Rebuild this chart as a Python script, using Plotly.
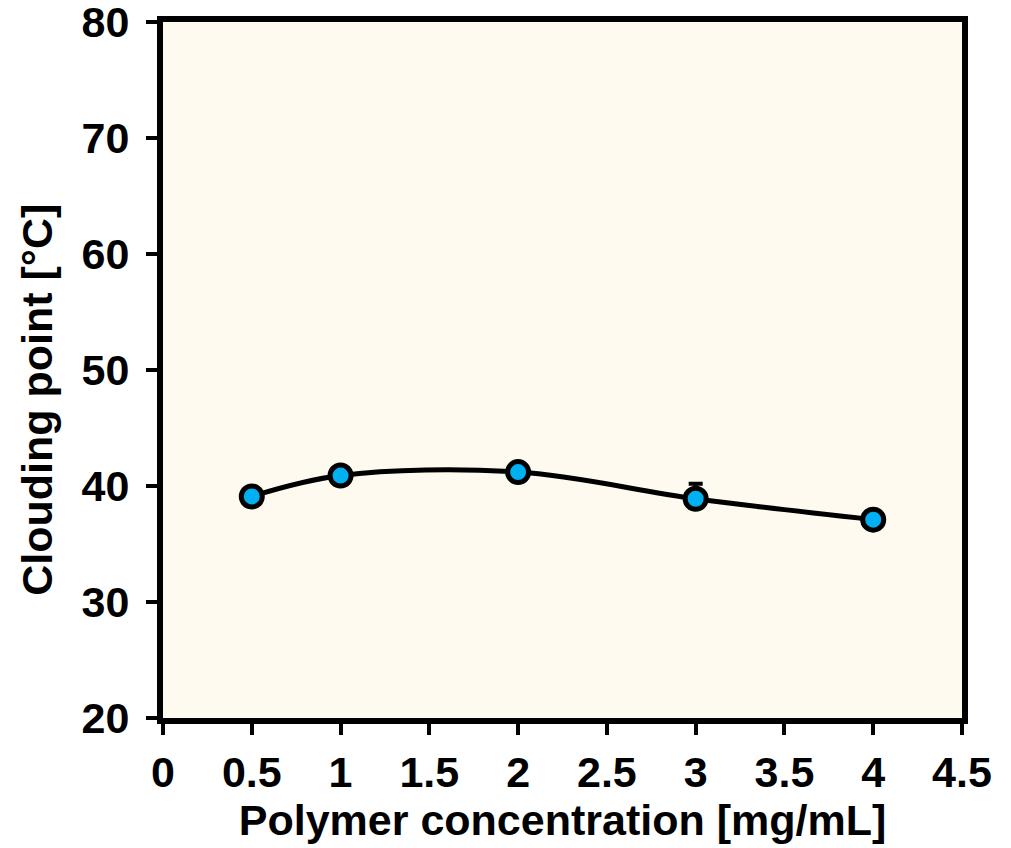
import plotly.graph_objects as go

# Cloud point vs polymer concentration
concentration = [0.5, 1, 2, 3, 4]
cloud_point = [39.1, 40.9, 41.2, 38.9, 37.1]
cloud_err_plus = [0.4, 0.5, 0.5, 1.3, 0.4]
cloud_err_minus = [0.0, 0.0, 0.0, 0.0, 0.0]

x_ticks = [0, 0.5, 1, 1.5, 2, 2.5, 3, 3.5, 4, 4.5]
x_tick_text = ["0", "0.5", "1", "1.5", "2", "2.5", "3", "3.5", "4", "4.5"]
y_ticks = [20, 30, 40, 50, 60, 70, 80]

FONT = "Liberation Sans, Arial, sans-serif"
SIZE = 43

fig = go.Figure()
# error bars first so the markers sit on top of them
fig.add_trace(go.Scatter(
    x=concentration,
    y=cloud_point,
    mode="markers",
    marker=dict(size=1, opacity=0),
    error_y=dict(type="data", symmetric=False, array=cloud_err_plus,
                 arrayminus=cloud_err_minus, visible=True,
                 color="black", thickness=4, width=7),
    showlegend=False, hoverinfo="skip",
))
fig.add_trace(go.Scatter(
    x=concentration,
    y=cloud_point,
    mode="lines+markers",
    line=dict(color="black", width=5, shape="spline", smoothing=1),
    marker=dict(size=21, color="#00B0F0", line=dict(color="black", width=5)),
    showlegend=False,
))

axis_common = dict(
    showline=True, linecolor="black", linewidth=6, mirror=True,
    ticks="outside", ticklen=11, tickwidth=4, tickcolor="black",
    showgrid=False, zeroline=False, automargin=False,
    ticklabeloverflow="allow",
    tickfont=dict(family=FONT, size=SIZE, color="black", weight="bold"),
)

fig.update_layout(
    template="none",
    width=1011, height=848,
    margin=dict(l=163, r=49, t=22, b=130),
    paper_bgcolor="white",
    plot_bgcolor="#FFFAF0",
    font=dict(family=FONT, color="black"),
    xaxis=dict(
        range=[0, 4.5], tickvals=x_ticks, ticktext=x_tick_text,
        title=dict(text="Polymer concentration [mg/mL]",
                   font=dict(family=FONT, size=SIZE, color="black", weight="bold"),
                   standoff=8),
        **axis_common,
    ),
    yaxis=dict(
        range=[20, 80], tickvals=y_ticks, ticklabelstandoff=8,
        **axis_common,
    ),
)

# y-axis title, placed slightly below the plot's vertical centre
fig.add_annotation(
    text="Clouding point [°C]",
    xref="paper", yref="paper",
    x=-0.158, y=0.457,
    xanchor="center", yanchor="middle",
    textangle=-90, showarrow=False,
    font=dict(family=FONT, size=SIZE, color="black", weight="bold"),
)

fig.write_html("out.html")
